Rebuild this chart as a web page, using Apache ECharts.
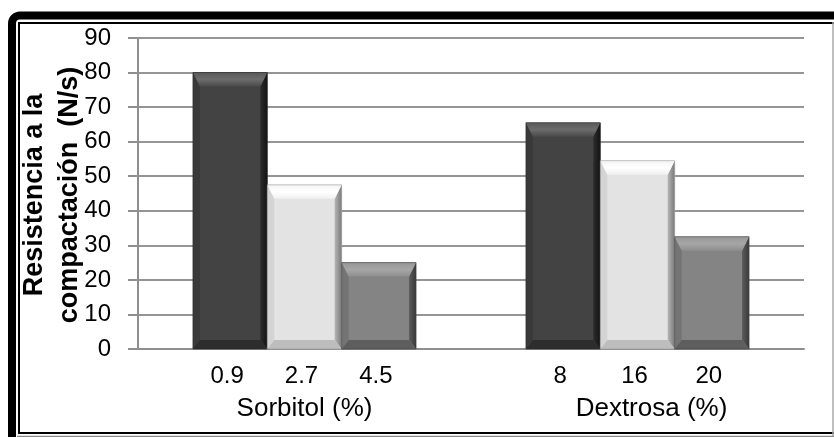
<!DOCTYPE html>
<html>
<head>
<meta charset="utf-8">
<script src="https://cdn.jsdelivr.net/npm/echarts@6/dist/echarts.min.js"></script>
<style>
html,body{margin:0;padding:0;background:#fff;}
#c{width:834px;height:437px;}
</style>
</head>
<body>
<div id="c"></div>
<script>
const groups = ['Sorbitol (%)', 'Dextrosa (%)'];
const subLabelsA = ['0.9', '8'];
const subLabelsB = ['2.7', '16'];
const subLabelsC = ['4.5', '20'];
const valuesA = [80, 65.5];
const valuesB = [47.5, 54.5];
const valuesC = [25, 32.5];
const yTicks = { min: 0, max: 90, interval: 10 };
const yTitle = 'Resistencia a la\ncompactación  (N/s)';

const FONT = "'Liberation Sans', Arial, sans-serif";
const GAP = 0.33;

const palettes = [
  { face: '#434343', top: ['#5a5a5a', '#6c6c6c', '#4a4a4a'], left: '#393939', right: ['#2c2c2c', '#141414'], bottom: '#2d2d2d', edge: '#2a2a2a' },
  { face: '#e3e3e3', top: ['#f4f4f4', '#ffffff', '#f0f0f0'], left: '#d4d4d4', right: ['#b5b5b5', '#7a7a7a'], bottom: '#bdbdbd', edge: '#9a9a9a' },
  { face: '#848484', top: ['#979797', '#a6a6a6', '#8e8e8e'], left: '#747474', right: ['#5c5c5c', '#3a3a3a'], bottom: '#5e5e5e', edge: '#3f3f3f' }
];

function makeBar(name, values, subs, pal) {
  return {
    name: name,
    type: 'bar',
    data: values,
    barGap: '0%',
    barCategoryGap: (GAP * 100) + '%',
    itemStyle: { color: pal.face },
    label: {
      show: true,
      position: 'bottom',
      distance: 15,
      offset: [-3, 0],
      color: '#000',
      fontFamily: FONT,
      fontSize: 24,
      formatter: p => subs[p.dataIndex]
    },
    emphasis: { disabled: true }
  };
}

function vgrad3(a, b, c) {
  return new echarts.graphic.LinearGradient(0, 0, 0, 1, [{ offset: 0, color: a }, { offset: 0.5, color: b }, { offset: 1, color: c }]);
}
function hgrad(a, b) {
  return new echarts.graphic.LinearGradient(0, 0, 1, 0, [{ offset: 0, color: a }, { offset: 1, color: b }]);
}

function makeBevel(idx, values, pal) {
  return {
    type: 'custom',
    z: 3,
    silent: true,
    data: values.map((v, i) => [i, v]),
    encode: { x: 0, y: 1 },
    renderItem: function (params, api) {
      const cat = api.value(0), val = api.value(1);
      const topPt = api.coord([cat, val]);
      const basePt = api.coord([cat, 0]);
      const band = api.size([1, 0])[0];
      const bw = band * (1 - GAP) / 3;
      const x0 = topPt[0] - 1.5 * bw + idx * bw, x1 = x0 + bw;
      const y0 = topPt[1], y1 = basePt[1];
      const t = 14, s = 7, b = 9;
      return {
        type: 'group',
        children: [
          { type: 'polygon', shape: { points: [[x0, y0], [x0 + s, y0 + t], [x0 + s, y1 - b], [x0, y1]] }, style: { fill: pal.left } },
          { type: 'polygon', shape: { points: [[x1, y0], [x1, y1], [x1 - s, y1 - b], [x1 - s, y0 + t]] }, style: { fill: hgrad(pal.right[0], pal.right[1]) } },
          { type: 'polygon', shape: { points: [[x0, y1], [x0 + s, y1 - b], [x1 - s, y1 - b], [x1, y1]] }, style: { fill: pal.bottom } },
          { type: 'polygon', shape: { points: [[x0, y0], [x1, y0], [x1 - s, y0 + t], [x0 + s, y0 + t]] }, style: { fill: vgrad3(pal.top[0], pal.top[1], pal.top[2]) } },
          { type: 'rect', shape: { x: x0, y: y0, width: bw, height: y1 - y0 }, style: { fill: 'none', stroke: pal.edge, lineWidth: 0.6 } }
        ]
      };
    }
  };
}

const chart = echarts.init(document.getElementById('c'), null, { renderer: 'canvas' });
chart.setOption({
  animation: false,
  backgroundColor: '#fff',
  grid: { left: 138, right: 30, top: 38, bottom: 88, containLabel: false },
  xAxis: {
    type: 'category',
    data: groups,
    axisLine: { show: true, lineStyle: { color: '#8f8f8f', width: 2 } },
    axisTick: { show: false },
    axisLabel: {
      margin: 47,
      color: '#000',
      fontFamily: FONT,
      fontSize: 26,
      formatter: (v, i) => i === 0 ? '{a|' + v + '}' : '{b|' + v + '}',
      rich: {
        a: { fontFamily: FONT, fontSize: 26, color: '#000' },
        b: { fontFamily: FONT, fontSize: 26, color: '#000', padding: [0, 0, 0, 28] }
      }
    },
    splitLine: { show: false }
  },
  yAxis: {
    type: 'value',
    min: yTicks.min,
    max: yTicks.max,
    interval: yTicks.interval,
    axisLine: { show: true, lineStyle: { color: '#8f8f8f', width: 2 } },
    axisTick: { show: true, length: 10, lineStyle: { color: '#8f8f8f', width: 2 } },
    axisLabel: { margin: 27, color: '#000', fontFamily: FONT, fontSize: 24 },
    splitLine: { show: true, lineStyle: { color: '#959595', width: 2 } }
  },
  series: [
    makeBar('A', valuesA, subLabelsA, palettes[0]),
    makeBar('B', valuesB, subLabelsB, palettes[1]),
    makeBar('C', valuesC, subLabelsC, palettes[2]),
    makeBevel(0, valuesA, palettes[0]),
    makeBevel(1, valuesB, palettes[1]),
    makeBevel(2, valuesC, palettes[2])
  ],
  graphic: [
    { type: 'text', silent: true, z: 50,
      x: 52, y: 195, rotation: Math.PI / 2,
      style: {
        text: yTitle,
        font: "bold 27px 'Liberation Sans', Arial, sans-serif",
        lineHeight: 35,
        fill: '#000',
        align: 'center',
        verticalAlign: 'middle'
      } },
    { type: 'rect', silent: true, z: 100,
      shape: { x: 12, y: 15.5, width: 900, height: 500, r: 8 },
      style: { fill: 'none', stroke: '#000', lineWidth: 8 } },
    { type: 'rect', silent: true, z: 100,
      shape: { x: 19, y: 23, width: 900, height: 410 },
      style: { fill: 'none', stroke: '#000', lineWidth: 2 } },
    { type: 'line', silent: true, z: 100,
      shape: { x1: 833, y1: 22, x2: 833, y2: 437 },
      style: { stroke: '#aaaaaa', lineWidth: 1.5 } },
    { type: 'line', silent: true, z: 100,
      shape: { x1: 17, y1: 436.5, x2: 834, y2: 436.5 },
      style: { stroke: '#888888', lineWidth: 1.5 } }
  ]
});
</script>
</body>
</html>
